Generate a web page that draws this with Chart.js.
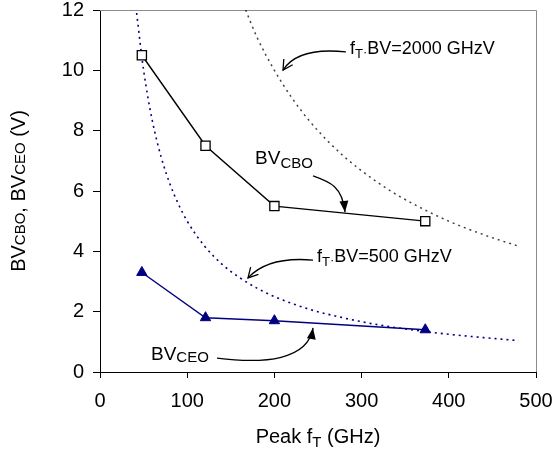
<!DOCTYPE html>
<html>
<head>
<meta charset="utf-8">
<script src="https://cdn.jsdelivr.net/npm/chart.js@4"></script>
<style>
html, body { margin: 0; padding: 0; background: #fff; }
#wrap { width: 560px; height: 453px; }
</style>
</head>
<body>
<div id="wrap"><canvas id="chart" width="560" height="453"></canvas></div>
<script>
// measured devices
const peakFt = [48, 121, 200, 373];
const bvCbo = [10.5, 7.5, 5.5, 5.0];
const bvCeo = [3.3, 1.8, 1.7, 1.4];

// constant fT*BV product curves (GHz, V)
const ft500 = [42, 50, 60, 70, 80, 90, 100, 120, 140, 160, 180, 200, 240, 280, 320, 360, 400, 440, 480];
const bv500 = [11.9, 10, 8.33, 7.14, 6.25, 5.56, 5, 4.17, 3.57, 3.13, 2.78, 2.5, 2.08, 1.79, 1.56, 1.39, 1.25, 1.14, 1.04];
const ft2000 = [167, 180, 200, 220, 240, 260, 280, 300, 330, 360, 400, 440, 480];
const bv2000 = [12, 11.1, 10, 9.09, 8.33, 7.69, 7.14, 6.67, 6.06, 5.56, 5, 4.55, 4.17];

const xTicks = [0, 100, 200, 300, 400, 500];
const yTicks = [0, 2, 4, 6, 8, 10, 12];

const FONT = "'Liberation Sans', Arial, sans-serif";
const NAVY = '#000080';

const pts = (xs, ys) => xs.map((v, i) => ({ x: v, y: ys[i] }));

// draw a run of text pieces: [text, size, baseline shift]
function richText(ctx, parts, x, y) {
    let cx = x;
    parts.forEach(([t, size, dy]) => {
        ctx.font = size + 'px ' + FONT;
        ctx.fillText(t, cx, y + dy);
        cx += ctx.measureText(t).width;
    });
    return cx - x;
}

function richWidth(ctx, parts) {
    let w = 0;
    parts.forEach(([t, size]) => {
        ctx.font = size + 'px ' + FONT;
        w += ctx.measureText(t).width;
    });
    return w;
}

// curved leader with open or filled head at the last point
function arrow(ctx, p, filled) {
    ctx.beginPath();
    ctx.moveTo(p[0][0], p[0][1]);
    if (p.length === 3) ctx.quadraticCurveTo(p[1][0], p[1][1], p[2][0], p[2][1]);
    else ctx.bezierCurveTo(p[1][0], p[1][1], p[2][0], p[2][1], p[3][0], p[3][1]);
    ctx.stroke();
    const tip = p[p.length - 1], prev = p[p.length - 2];
    const ang = Math.atan2(tip[1] - prev[1], tip[0] - prev[0]);
    const len = filled ? 12 : 11, spread = filled ? 0.38 : 0.5;
    const a = [tip[0] - len * Math.cos(ang - spread), tip[1] - len * Math.sin(ang - spread)];
    const b = [tip[0] - len * Math.cos(ang + spread), tip[1] - len * Math.sin(ang + spread)];
    ctx.beginPath();
    if (filled) {
        ctx.moveTo(tip[0], tip[1]);
        ctx.lineTo(a[0], a[1]);
        ctx.lineTo(b[0], b[1]);
        ctx.closePath();
        ctx.fill();
    } else {
        ctx.moveTo(a[0], a[1]);
        ctx.lineTo(tip[0], tip[1]);
        ctx.lineTo(b[0], b[1]);
        ctx.stroke();
    }
}

const frameAndNotes = {
    id: 'frameAndNotes',
    beforeDatasetsDraw(chart) {
        const { ctx, chartArea: a } = chart;
        ctx.save();
        ctx.strokeStyle = '#8c8c8c';
        ctx.lineWidth = 1;
        ctx.beginPath();
        ctx.moveTo(a.left, a.top + 0.5);
        ctx.lineTo(a.right + 0.5, a.top + 0.5);
        ctx.lineTo(a.right + 0.5, a.bottom);
        ctx.stroke();
        ctx.restore();
    },
    afterDraw(chart) {
        const { ctx, chartArea: a, scales: { x, y } } = chart;
        const P = (fx, bv) => [x.getPixelForValue(fx), y.getPixelForValue(bv)];
        ctx.save();
        ctx.fillStyle = '#000';
        ctx.strokeStyle = '#000';
        ctx.lineWidth = 1.3;
        ctx.textBaseline = 'alphabetic';

        // product labels
        let t = P(286.7, 10.54);
        richText(ctx, [['f', 18, 0], ['T', 13, 4], ['\u00b7', 13, 2], ['BV=2000 GHzV', 18, 0]], t[0], t[1]);
        arrow(ctx, [P(282, 10.61), P(227, 10.78), P(209.9, 10.01)], false);

        t = P(248.9, 3.65);
        richText(ctx, [['f', 18, 0], ['T', 13, 4], ['\u00b7', 13, 2], ['BV=500 GHzV', 18, 0]], t[0], t[1]);
        arrow(ctx, [P(244.3, 3.71), P(192.7, 3.84), P(169.7, 3.12)], false);

        // series labels
        t = P(177.8, 6.89);
        richText(ctx, [['BV', 19, 0], ['CBO', 15, 4]], t[0], t[1]);
        arrow(ctx, [P(244.3, 6.50), P(264, 6.30), P(278, 6.15), P(281, 5.30)], true);

        t = P(58.5, 0.40);
        richText(ctx, [['BV', 19, 0], ['CEO', 15, 2]], t[0], t[1]);
        arrow(ctx, [P(134.2, 0.46), P(189, 0.26), P(238.5, 0.40), P(244.3, 1.46)], true);

        // axis titles
        const xt = [['Peak f', 20, 0], ['T', 15, 4], [' (GHz)', 20, 0]];
        const cx = (a.left + a.right) / 2;
        richText(ctx, xt, cx - richWidth(ctx, xt) / 2, 443);

        const yt = [['BV', 20, 0], ['CBO', 15, 0], [', BV', 20, 0], ['CEO', 15, 0], [' (V)', 20, 0]];
        ctx.translate(25, (a.top + a.bottom) / 2);
        ctx.rotate(-Math.PI / 2);
        richText(ctx, yt, -richWidth(ctx, yt) / 2, 0);
        ctx.restore();
    }
};

const ctx = document.getElementById('chart').getContext('2d');
new Chart(ctx, {
    type: 'line',
    data: {
        datasets: [
            {
                label: 'BVCBO',
                data: pts(peakFt, bvCbo),
                borderColor: '#000',
                borderWidth: 1.4,
                pointStyle: 'rect',
                pointRadius: 6.5,
                pointBackgroundColor: '#fff',
                pointBorderColor: '#000',
                pointBorderWidth: 1.3
            },
            {
                label: 'BVCEO',
                data: pts(peakFt, bvCeo),
                borderColor: NAVY,
                borderWidth: 1.4,
                pointStyle: 'triangle',
                pointRadius: 6,
                pointBackgroundColor: NAVY,
                pointBorderColor: NAVY,
                pointBorderWidth: 1
            },
            {
                label: 'fT*BV=2000',
                data: pts(ft2000, bv2000),
                borderColor: 'rgba(0,0,0,0.75)',
                borderWidth: 1.5,
                borderDash: [2, 4],
                pointRadius: 0,
                cubicInterpolationMode: 'monotone'
            },
            {
                label: 'fT*BV=500',
                data: pts(ft500, bv500),
                borderColor: NAVY,
                borderWidth: 1.6,
                borderDash: [2, 4],
                pointRadius: 0,
                cubicInterpolationMode: 'monotone'
            }
        ]
    },
    options: {
        responsive: false,
        animation: false,
        devicePixelRatio: 1,
        layout: { padding: { top: 10, right: 24, left: 0, bottom: 0 } },
        plugins: { legend: { display: false }, tooltip: { enabled: false } },
        scales: {
            x: {
                type: 'linear',
                min: 0,
                max: 500,
                afterBuildTicks: s => { s.ticks = xTicks.map(v => ({ value: v })); },
                afterFit: s => { s.height = 81; s.paddingLeft = 0; s.paddingRight = 0; },
                ticks: { color: '#000', font: { family: FONT, size: 20 }, padding: 11, maxRotation: 0 },
                grid: { drawOnChartArea: false, drawTicks: true, tickLength: 6, color: '#000' },
                border: { color: '#000', width: 1 }
            },
            y: {
                min: 0,
                max: 12,
                afterBuildTicks: s => { s.ticks = yTicks.map(v => ({ value: v })); },
                afterFit: s => { s.width = 100; s.paddingTop = 0; s.paddingBottom = 0; },
                ticks: { color: '#000', font: { family: FONT, size: 20 }, padding: 9 },
                grid: { drawOnChartArea: false, drawTicks: true, tickLength: 7, color: '#000' },
                border: { color: '#000', width: 1 }
            }
        }
    },
    plugins: [frameAndNotes]
});
</script>
</body>
</html>
